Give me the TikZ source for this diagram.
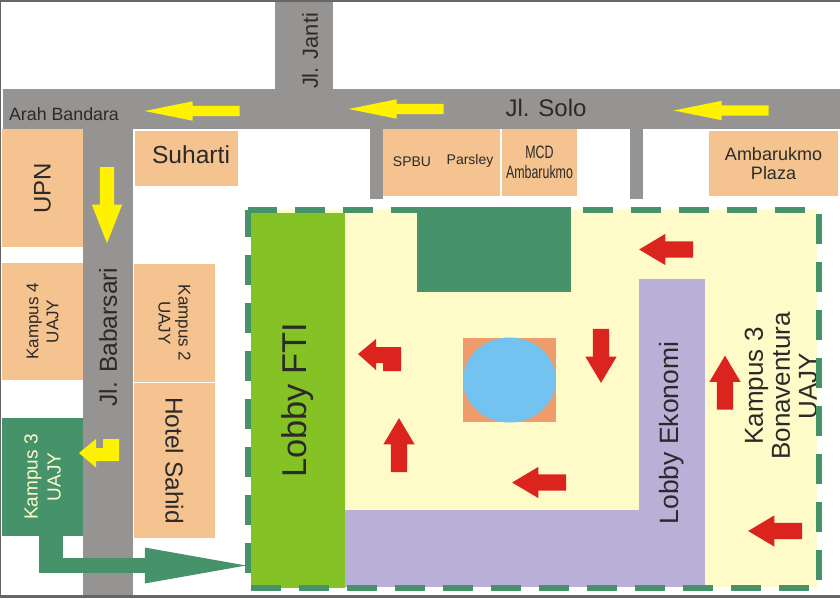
\documentclass[tikz,border=0pt]{standalone}
\usepackage{xcolor}
\usepackage{fontspec}
\usepackage{tikz}
\usetikzlibrary{arrows.meta}
\usetikzlibrary{shapes.arrows}
\usetikzlibrary{shapes.geometric}
\setmainfont{Liberation Sans}
\newfontfamily\narrowfont[FakeStretch=0.69]{Liberation Sans}
\definecolor{roadgray}{HTML}{969492}
\definecolor{peach}{HTML}{F5C38F}
\definecolor{dgreen}{HTML}{46926A}
\definecolor{lgreen}{HTML}{84C225}
\definecolor{lotyellow}{HTML}{FFFBC8}
\definecolor{lilac}{HTML}{B8B0D6}
\definecolor{pondorange}{HTML}{EE9C6B}
\definecolor{pondblue}{HTML}{73C3F0}
\definecolor{signred}{HTML}{DC241F}
\definecolor{signyellow}{HTML}{FFF200}
\definecolor{inkgray}{HTML}{2B2A29}
\tikzset{
  block/.style={rectangle,inner sep=0pt,text=inkgray,align=center},
  road/.style={block,fill=roadgray},
  shop/.style={block,fill=peach},
  lbl/.style={inner sep=0pt,text=inkgray,align=center},
  redarrow/.style={single arrow,fill=signred,inner xsep=0pt,inner ysep=8pt,minimum height=54,minimum width=31,
    single arrow head extend=7.5,single arrow tip angle=61.6},
  yelarrow/.style={single arrow,fill=signyellow,inner xsep=0pt,inner ysep=5pt,minimum height=95,minimum width=19,
    single arrow head extend=4.5,single arrow tip angle=22.8},
}
\newcommand{\fs}[2]{\fontsize{#1}{#2}\selectfont}
\begin{document}
\begin{tikzpicture}[x=1pt,y=-1pt]
\useasboundingbox (0,0) rectangle (840,598);
\fill[white] (0,0) rectangle (840,598);
\draw[line width=2.5,gray!80!black] (0,596.5) -- (0,1) -- (840,1);
\draw[line width=2.5,gray!80!black] (0,596.7) -- (840,596.7);
% roads
\node[road,minimum width=837,minimum height=40] at (421.5,108.5) (solo) {};
\node[road,minimum width=58,minimum height=87] at (304,45.5) (janti) {};
\node[road,minimum width=50,minimum height=467] at (108,361.5) (babarsari) {};
\node[road,minimum width=13,minimum height=71] at (376.5,163.5) (gang1) {};
\node[road,minimum width=13,minimum height=71] at (636.5,163.5) (gang2) {};
\node[lbl,font=\fs{17.8}{20}] at (64,114) (bandara) {Arah Bandara};
\node[lbl,font=\fs{24}{26}] at (546,108) (jlsolo) {Jl. Solo};
\node[lbl,font=\fs{21.8}{24},rotate=90] at (310,51) (jljanti) {Jl. Janti};
\node[lbl,font=\fs{24.6}{26},rotate=90] at (108,337) (jlbabarsari) {Jl. Babarsari};
% shops
\node[shop,font=\fs{24}{26},rotate=90,minimum width=118,minimum height=81] at (42.5,188) (upn) {UPN};
\node[shop,minimum width=103,minimum height=55] at (186.5,158.5) (suharti) {};
\node[lbl,font=\fs{24.6}{26}] at (191,155) (suhartitext) {Suharti};
\node[shop,minimum width=117,minimum height=67] at (441.5,162.5) (spbu) {};
\node[lbl,font=\fs{14}{15}] at (412,162) (spbutext) {SPBU};
\node[lbl,font=\fs{14}{15}] at (470,161) (parsley) {Parsley};
\node[shop,minimum width=75,minimum height=67,font=\narrowfont\fs{18}{20}] at (539.5,162.5) (mcd) {MCD\\Ambarukmo};
\node[shop,minimum width=129,minimum height=65,font=\fs{18}{19}] at (773.5,163.5) (plaza) {Ambarukmo\\Plaza};
\node[shop,font=\fs{17}{20},rotate=90,minimum width=117,minimum height=81] at (42.5,321.5) (kampus4) {Kampus 4\\UAJY};
\node[shop,font=\fs{17}{20},rotate=-90,minimum width=118,minimum height=81] at (174.5,323) (kampus2) {Kampus 2\\UAJY};
\node[shop,font=\fs{24.5}{26},rotate=-90,minimum width=155,minimum height=81] at (174.5,460.5) (sahid) {Hotel Sahid};
\node[block,fill=dgreen,text=lotyellow,font=\fs{19}{23},rotate=90,minimum width=118,minimum height=81] at (42.5,477) (kampus3) {Kampus 3\\UAJY};
% kampus 3 lot
\fill[lotyellow] (251,210) rectangle (817,587);
\node[block,fill=lgreen,font=\fs{34.4}{36},rotate=90,minimum width=375,minimum height=94] at (298,400.5) (lobbyfti) {Lobby FTI};
\node[block,fill=dgreen,minimum width=154,minimum height=85] at (494,249.5) (gedung) {};
\node[block,fill=lilac,minimum width=294,minimum height=77] at (492,548.5) (aula) {};
\node[block,fill=lilac,font=\fs{26.5}{30},rotate=90,minimum width=308,minimum height=66] at (672,433) (ekonomi) {Lobby Ekonomi};
\node[block,fill=pondorange,minimum width=93,minimum height=84] at (509.5,380) (taman) {};
\node[ellipse,fill=pondblue,inner sep=0pt,minimum width=93,minimum height=85] at (509.5,380) (kolam) {};
\node[lbl,font=\fs{26}{27},rotate=90] at (781,386) (bonaventura) {Kampus 3\\Bonaventura\\UAJY};
\draw[dgreen,line width=6,dash pattern=on 30 off 18,dash phase=1] (248,210) -- (819,210) -- (819,588) -- (248,588) -- cycle;
% yellow arrows
\node[yelarrow,rotate=180] at (205,111) (ya) {};
\node[yelarrow,rotate=180] at (409,109) (yb) {};
\node[yelarrow,rotate=180] at (734,110.5) (yc) {};
\node[yelarrow,rotate=-90,inner ysep=7pt,minimum height=76,minimum width=30,single arrow head extend=8,single arrow tip angle=43] at (107,196) (yd) {};
\fill[signyellow] (79,453) -- (96,439) -- (96,448) -- (103,448) -- (103,439) -- (119,439) -- (119,461) -- (96,461) -- (96,467.5) -- cycle;
% red arrows
\node[redarrow,rotate=180] at (673,249.5) (ra) {};
\node[redarrow,rotate=-90] at (601,349) (rb) {};
\node[redarrow,rotate=90] at (399,452) (rc) {};
\node[redarrow,rotate=180] at (546,482.5) (rd) {};
\node[redarrow,rotate=90] at (725,389.5) (re) {};
\node[redarrow,rotate=180] at (782,531) (rf) {};
\fill[signred] (358,354) -- (376,339) -- (376,347) -- (401,347) -- (401,371) -- (383,371) -- (383,363) -- (376,363) -- (376,370) -- cycle;
% route into the lot
\coordinate (turn) at (39,565.5);
\fill[dgreen] (39,536) rectangle (63,573);
\draw[dgreen,line width=15,-{Triangle[length=114,width=31]},shorten >=-8] (turn) -- (lobbyfti.north |- turn);
\end{tikzpicture}
\end{document}
